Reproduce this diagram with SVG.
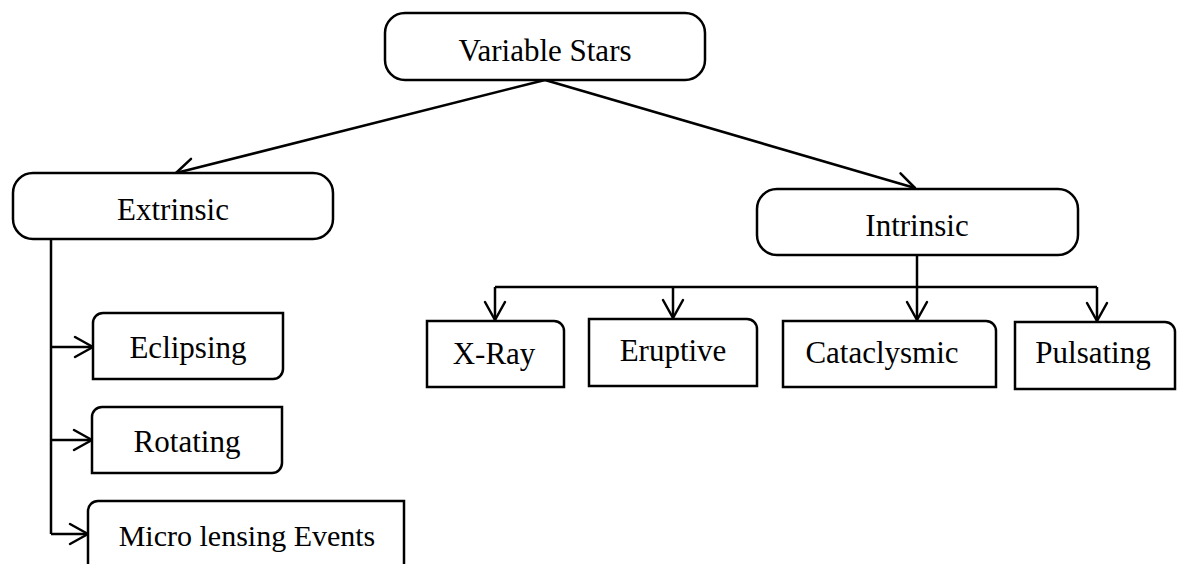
<svg xmlns="http://www.w3.org/2000/svg" width="1178" height="564" viewBox="0 0 1178 564">
<style>
.box{fill:#fff;stroke:#000;stroke-width:2.5}
.t{font-family:"Liberation Serif","Times New Roman",serif;font-size:31px;fill:#000;text-anchor:middle}
.c{fill:none;stroke:#000;stroke-width:2.5}
.a{marker-end:url(#arr)}
</style>
<defs>
<marker id="arr" viewBox="0 0 18 20" refX="18" refY="10" markerWidth="18" markerHeight="20" markerUnits="userSpaceOnUse" orient="auto" overflow="visible">
<path d="M0,0 L18,10 L0,20" fill="none" stroke="#000" stroke-width="2.5" stroke-linejoin="round" stroke-linecap="round"/>
</marker>
</defs>
<rect width="1178" height="564" fill="#fff"/>
<g id="connectors">
<path class="c a" d="M545,80 L176,173"/>
<path class="c a" d="M545,80 L915,188"/>
<path class="c" d="M51,240 V534"/>
<path class="c a" d="M51,347 H93"/>
<path class="c a" d="M51,440 H92"/>
<path class="c a" d="M51,534 H88"/>
<path class="c a" d="M917,255 V320"/>
<path class="c" d="M495,287 H1097"/>
<path class="c a" d="M495,287 V320"/>
<path class="c a" d="M673,287 V318"/>
<path class="c a" d="M1097,287 V321"/>
</g>
<g id="variable-stars">
<rect class="box" x="385" y="13" width="320" height="67" rx="20"/>
<text class="t" x="545" y="61">Variable Stars</text>
</g>
<g id="extrinsic">
<rect class="box" x="13" y="173" width="320" height="66" rx="20"/>
<text class="t" x="173" y="220">Extrinsic</text>
</g>
<g id="intrinsic">
<rect class="box" x="757" y="189" width="321" height="66" rx="20"/>
<text class="t" x="917" y="236">Intrinsic</text>
</g>
<g id="eclipsing">
<path class="box" d="M103,313 H283 V369 A10,10 0 0 1 273,379 H93 V323 A10,10 0 0 1 103,313 Z"/>
<text class="t" x="188" y="358">Eclipsing</text>
</g>
<g id="rotating">
<path class="box" d="M102,407 H282 V463 A10,10 0 0 1 272,473 H92 V417 A10,10 0 0 1 102,407 Z"/>
<text class="t" x="187" y="452">Rotating</text>
</g>
<g id="micro-lensing">
<path class="box" d="M98,501 H404 V570 A10,10 0 0 1 394,580 H88 V511 A10,10 0 0 1 98,501 Z"/>
<text class="t" x="247" y="546" style="font-size:30px">Micro lensing Events</text>
</g>
<g id="x-ray">
<path class="box" d="M427,321 H554 A10,10 0 0 1 564,331 V387 H427 Z"/>
<text class="t" x="494" y="364">X-Ray</text>
</g>
<g id="eruptive">
<path class="box" d="M589,319 H747 A10,10 0 0 1 757,329 V386 H589 Z"/>
<text class="t" x="673" y="361">Eruptive</text>
</g>
<g id="cataclysmic">
<path class="box" d="M783,321 H986 A10,10 0 0 1 996,331 V387 H783 Z"/>
<text class="t" x="882" y="363">Cataclysmic</text>
</g>
<g id="pulsating">
<path class="box" d="M1015,322 H1165 A10,10 0 0 1 1175,332 V389 H1015 Z"/>
<text class="t" x="1093" y="363">Pulsating</text>
</g>
</svg>
